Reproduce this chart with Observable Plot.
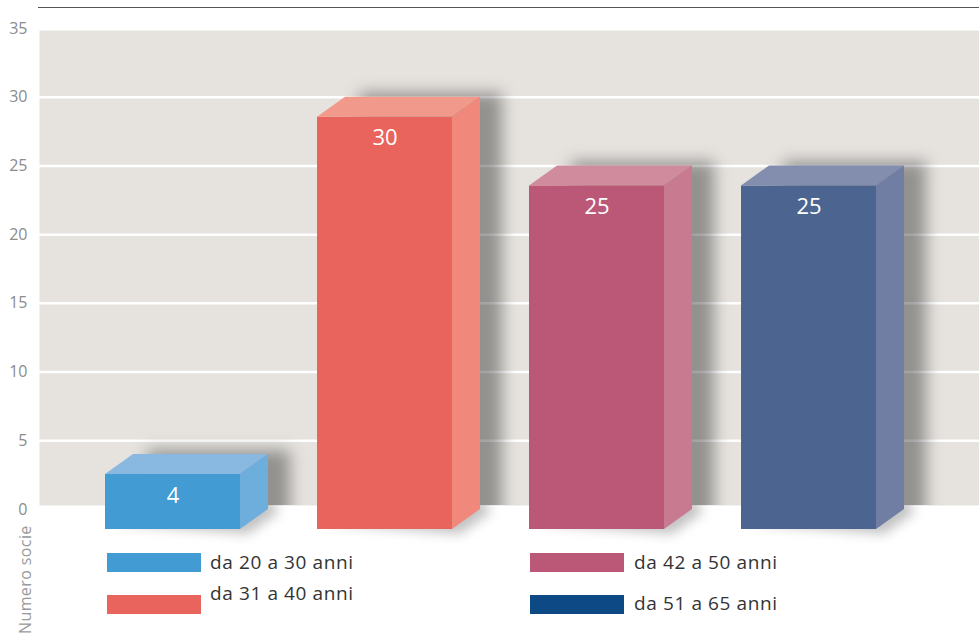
<!DOCTYPE html>
<html>
<head>
<meta charset="utf-8">
<script src="https://cdn.jsdelivr.net/npm/d3@7"></script>
<script src="https://cdn.jsdelivr.net/npm/@observablehq/plot@0.6"></script>
<style>
  body { margin: 0; background: #fff; }
  #wrap { position: relative; width: 979px; height: 635px; font-family: "Open Sans", Lato, sans-serif; overflow: hidden; }
  #topline { position: absolute; left: 38px; top: 7px; width: 941px; height: 0; border-top: 1.6px solid #555; }
  .sw { position: absolute; width: 94px; height: 19px; }
  .lt { position: absolute; font-size: 19px; letter-spacing: 0.6px; color: #333; line-height: 20px; white-space: nowrap; }
  #ylab { position: absolute; left: 18px; top: 634px; transform-origin: 0 0; transform: rotate(-90deg);
          font-size: 16px; letter-spacing: 0.4px; line-height: 15px; color: #9a9a9a; white-space: nowrap; }
</style>
</head>
<body>
<div id="wrap">
  <div id="topline"></div>
</div>
<script>
// ---- data ----
const categories = ["da 20 a 30 anni", "da 31 a 40 anni", "da 42 a 50 anni", "da 51 a 65 anni"];
const values = [4, 30, 25, 25];
const yTicks = [0, 5, 10, 15, 20, 25, 30, 35];
const yLabel = "Numero socie";
const frontColors = ["#429bd3", "#e9645c", "#bb5878", "#4c6490"];
const topColors = ["#89b8e0", "#f19a8b", "#d08c9c", "#838dae"];
const sideColors = ["#6eaedd", "#f0897b", "#c77a90", "#717ea4"];
const legendColors = ["#429bd3", "#e9645c", "#bb5878", "#0d4a85"];

const data = categories.map((c, i) => ({category: c, value: values[i]}));

const DX = -28, DY = 20; // 3D depth offset of the front face

const plot = Plot.plot({
  width: 979,
  height: 635,
  marginTop: 28,
  marginBottom: 126,
  marginLeft: 39,
  marginRight: 0,
  style: {fontFamily: '"Open Sans", Lato, sans-serif', fontSize: "16px", color: "#8c8c8c", background: "transparent", overflow: "visible"},
  x: {domain: categories, range: [132, 906], paddingInner: 0.361, paddingOuter: 0, axis: null},
  y: {domain: [0, 35], ticks: yTicks, tickSize: 0, tickPadding: 12, label: null},
  color: {domain: categories, range: frontColors},
  marks: [
    Plot.frame({fill: "#e6e3df", stroke: "none", insetTop: 2, insetBottom: 4}),
    Plot.ruleY(yTicks.filter(d => d > 0), {stroke: "#ffffff", strokeWidth: 2.5}),
    Plot.barY(data, {x: "category", y: "value", fill: "category", dx: DX, dy: DY}),
    Plot.text(data, {x: "category", y: "value", text: d => String(d.value), dx: DX, dy: DY + 21,
      fill: "#ffffff", fontSize: 22, fontWeight: 400})
  ]
});

const wrap = document.getElementById("wrap");
wrap.appendChild(plot);
plot.style.position = "absolute";
plot.style.left = "0px";
plot.style.top = "0px";

// ---- 3D faces and shadows via the plot's own scales ----
const xs = plot.scale("x"), ys = plot.scale("y");
const bw = xs.bandwidth;
const svg = d3.select(plot);
const defs = svg.insert("defs", ":first-child");
defs.append("filter").attr("id", "blurWall").attr("x", "-50%").attr("y", "-50%").attr("width", "200%").attr("height", "200%")
  .append("feGaussianBlur").attr("stdDeviation", 8);
defs.append("filter").attr("id", "blurFloor").attr("x", "-50%").attr("y", "-50%").attr("width", "200%").attr("height", "200%")
  .append("feGaussianBlur").attr("stdDeviation", 6);
const y0 = ys.apply(0);
const yTop = ys.apply(35);
defs.append("clipPath").attr("id", "wallClip").append("rect")
  .attr("x", 39).attr("y", yTop).attr("width", 940).attr("height", (y0 - 4) - yTop);
defs.append("clipPath").attr("id", "floorClip").append("rect")
  .attr("x", 0).attr("y", y0 - 4).attr("width", 979).attr("height", 200);

const barRect = [...plot.querySelectorAll("rect")].find(r => r.getAttribute("fill") === frontColors[0]);
const barsG = barRect.parentNode;

const shadowG = document.createElementNS("http://www.w3.org/2000/svg", "g");
plot.insertBefore(shadowG, barsG);
const facesG = document.createElementNS("http://www.w3.org/2000/svg", "g");
plot.insertBefore(facesG, barsG.nextSibling);

const sG = d3.select(shadowG), fG = d3.select(facesG);
const wall = sG.append("g").attr("clip-path", "url(#wallClip)");
const floor = sG.append("g").attr("clip-path", "url(#floorClip)");

data.forEach((d, i) => {
  const bx1 = xs.apply(d.category), bx2 = bx1 + bw;
  const by1 = ys.apply(d.value), by2 = y0;
  const fx1 = bx1 + DX, fx2 = bx2 + DX, fy1 = by1 + DY, fy2 = by2 + DY;
  // wall shadow
  wall.append("rect").attr("x", bx1 + 14).attr("y", by1 - 4).attr("width", bw + 8).attr("height", by2 - by1 + 24)
    .attr("fill", "#000").attr("fill-opacity", 0.36).attr("filter", "url(#blurWall)");
  // floor shadow
  floor.append("polygon")
    .attr("points", [[fx1 + 6, fy2 - 6], [fx2 + 8, fy2 + 5], [bx2 + 12, by2 + 2], [bx2, by2 - 10]].map(p => p.join(",")).join(" "))
    .attr("fill", "#000").attr("fill-opacity", 0.24).attr("filter", "url(#blurFloor)");
  // top face
  fG.append("polygon")
    .attr("points", [[fx1, fy1], [fx2, fy1], [bx2, by1], [bx1, by1]].map(p => p.join(",")).join(" "))
    .attr("fill", topColors[i]);
  // side face
  fG.append("polygon")
    .attr("points", [[fx2, fy1], [bx2, by1], [bx2, by2], [fx2, fy2]].map(p => p.join(",")).join(" "))
    .attr("fill", sideColors[i]);
});

// ---- legend (HTML below the plot area) ----
const legendPos = [
  {sx: 107, sy: 553, tx: 210, ty: 552},
  {sx: 107, sy: 595, tx: 210, ty: 583},
  {sx: 530, sy: 553, tx: 634, ty: 552},
  {sx: 530, sy: 595, tx: 634, ty: 593}
];
categories.forEach((c, i) => {
  const p = legendPos[i];
  const sw = document.createElement("div");
  sw.className = "sw";
  sw.style.left = p.sx + "px"; sw.style.top = p.sy + "px"; sw.style.background = legendColors[i];
  wrap.appendChild(sw);
  const t = document.createElement("div");
  t.className = "lt";
  t.style.left = p.tx + "px"; t.style.top = p.ty + "px";
  t.textContent = c;
  wrap.appendChild(t);
});
const yl = document.createElement("div");
yl.id = "ylab";
yl.textContent = yLabel;
wrap.appendChild(yl);
</script>
</body>
</html>
